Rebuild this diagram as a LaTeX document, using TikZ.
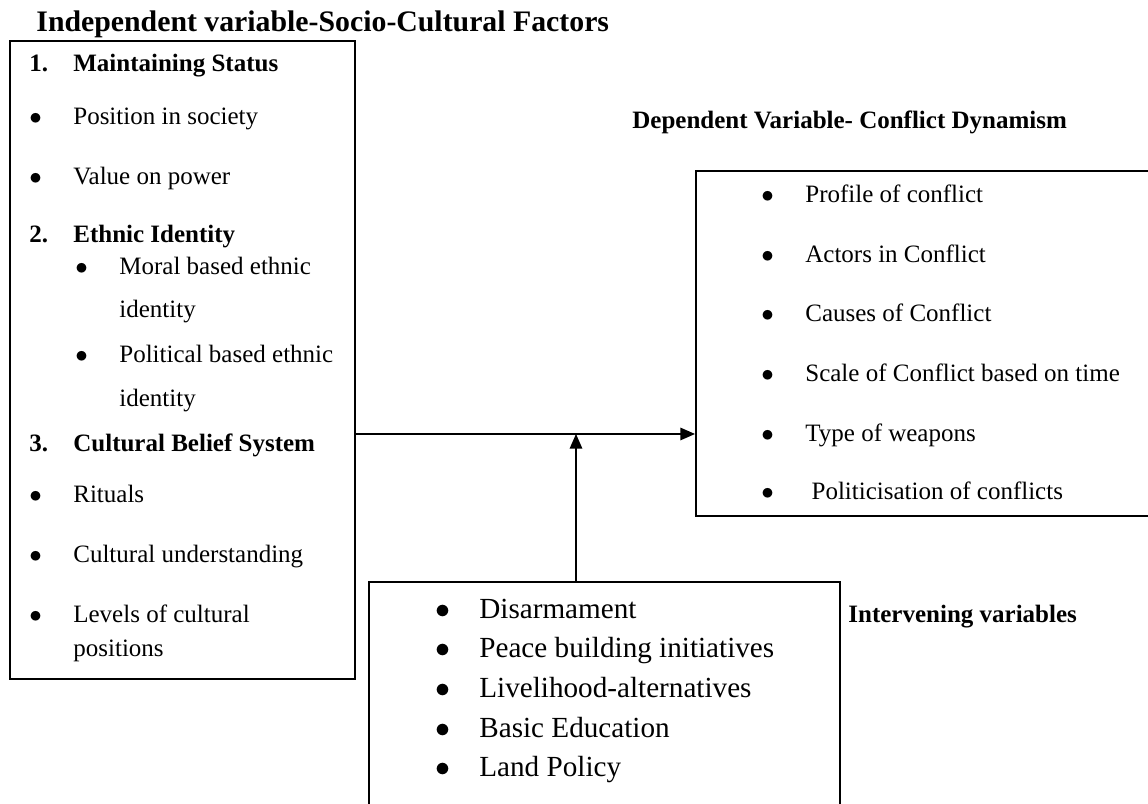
\documentclass[tikz,border=0pt]{standalone}
\usepackage{fontspec}
\setmainfont{Liberation Serif}
\usepackage{tikz}
\usetikzlibrary{arrows.meta}
\tikzstyle{box} = [rectangle, draw=black, line width=0.8pt, anchor=north west, inner sep=0pt]
\tikzstyle{txt} = [anchor=base west, inner sep=0pt, font=\fontsize{12}{14}\selectfont]
\tikzstyle{bigtxt} = [anchor=base west, inner sep=0pt, font=\fontsize{14}{17}\selectfont]
\tikzstyle{head} = [anchor=base west, inner sep=0pt, font=\fontsize{12}{14}\selectfont\bfseries]
\tikzstyle{arrow} = [line width=0.6pt, -{Triangle[length=7pt,width=6pt]}]
\newcommand{\bul}{\makebox[21.1pt][l]{$\bullet$}}
\newcommand{\numlab}[1]{\makebox[21.1pt][l]{\textbf{#1}}}

\begin{document}
\begin{tikzpicture}[x=0.48pt, y=-0.48pt]
\useasboundingbox (0,0) rectangle (1148,804);
% boxes
\node (indep) [box, minimum width=165.6pt, minimum height=306.2pt] at (9,40) {};
\node (dep) [box, minimum width=225.6pt, minimum height=165.6pt] at (695,170) {};
\node (interv) [box, minimum width=226.1pt, minimum height=115.2pt] at (368,581) {};
% independent variable
\node (indtitle) [head, font=\fontsize{14.3}{17}\selectfont\bfseries] at (36,32) {Independent variable-Socio-Cultural Factors};
\node (status) [txt] at (29,72) {\numlab{1.}\textbf{Maintaining Status}};
\node (position) [txt] at (29,125) {\bul Position in society};
\node (power) [txt] at (29,185) {\bul Value on power};
\node (ethnic) [txt] at (29,243) {\numlab{2.}\textbf{Ethnic Identity}};
\node (moral) [txt] at (75,275) {\bul Moral based ethnic};
\node (moral2) [txt] at (119,318) {identity};
\node (political) [txt] at (75,363) {\bul Political based ethnic};
\node (political2) [txt] at (119,407) {identity};
\node (belief) [txt] at (29,452) {\numlab{3.}\textbf{Cultural Belief System}};
\node (rituals) [txt] at (29,503) {\bul Rituals};
\node (understand) [txt] at (29,563) {\bul Cultural understanding};
\node (levels) [txt] at (29,623) {\bul Levels of cultural};
\node (levels2) [txt] at (73,657) {positions};
% dependent variable
\node (deptitle) [head] at (632,129) {Dependent Variable- Conflict Dynamism};
\node (profile) [txt] at (761,203) {\bul Profile of conflict};
\node (actors) [txt] at (761,263) {\bul Actors in Conflict};
\node (causes) [txt] at (761,322) {\bul Causes of Conflict};
\node (scale) [txt] at (761,382) {\bul Scale of Conflict based on time};
\node (weapons) [txt] at (761,442) {\bul Type of weapons};
\node (politic) [txt] at (761,500) {\bul\ Politicisation of conflicts};
% intervening variables
\node (intertitle) [head] at (848,623) {Intervening variables};
\node (disarm) [bigtxt] at (435,619) {\bul Disarmament};
\node (peace) [bigtxt] at (435,658) {\bul Peace building initiatives};
\node (liveli) [bigtxt] at (435,698) {\bul Livelihood-alternatives};
\node (educ) [bigtxt] at (435,738) {\bul Basic Education};
\node (land) [bigtxt] at (435,777) {\bul Land Policy};
% arrows
\coordinate (meet) at (576,434);
\draw [arrow] (indep.east |- meet) -- (dep.west |- meet);
\draw [arrow] (interv.north -| meet) -- (meet);
\end{tikzpicture}
\end{document}
